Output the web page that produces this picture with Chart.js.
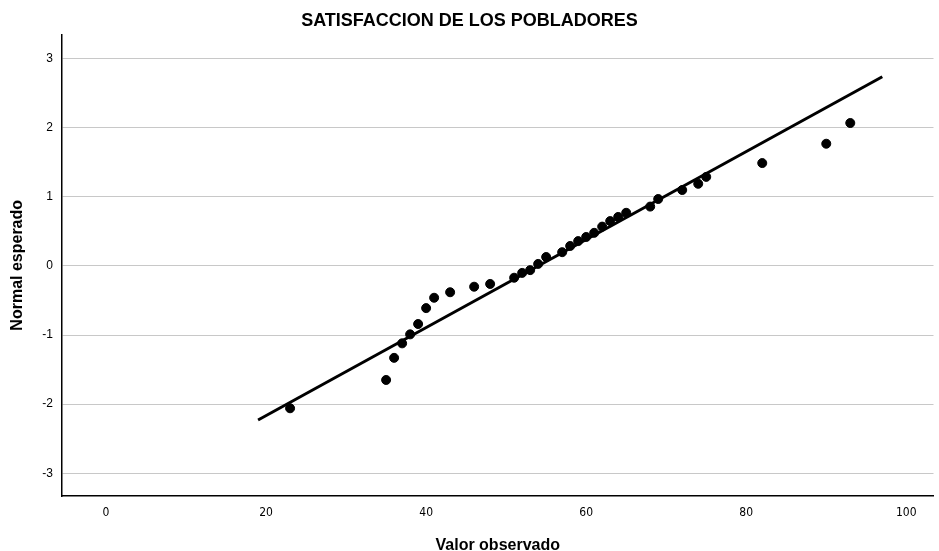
<!DOCTYPE html>
<html>
<head>
<meta charset="utf-8">
<script src="https://cdn.jsdelivr.net/npm/chart.js@4"></script>
<style>
  body { margin: 0; background: #fff; }
  #wrap { width: 939px; height: 551px; }
</style>
</head>
<body>
<div id="wrap"><canvas id="qq"></canvas></div>
<script>
// observed values and expected normal scores
const observed = [23, 35, 36, 37, 38, 39, 40, 41, 43, 46, 48, 51, 52, 53, 54, 55, 57, 58, 59, 60, 61, 62, 63, 64, 65, 68, 69, 72, 74, 75, 82, 90, 93];
const expectedNormal = [-2.06, -1.65, -1.33, -1.12, -0.99, -0.84, -0.61, -0.46, -0.38, -0.30, -0.26, -0.17, -0.10, -0.06, 0.03, 0.13, 0.20, 0.29, 0.36, 0.42, 0.48, 0.57, 0.65, 0.71, 0.77, 0.86, 0.97, 1.10, 1.19, 1.29, 1.49, 1.77, 2.07];

// reference line endpoints
const lineX = [19, 97];
const lineY = [-2.23, 2.74];

const xTicks = [0, 20, 40, 60, 80, 100];
const yTicks = [-3, -2, -1, 0, 1, 2, 3];

const pointData = observed.map((v, i) => ({x: v, y: expectedNormal[i]}));
const lineData = lineX.map((v, i) => ({x: v, y: lineY[i]}));

new Chart(document.getElementById('qq'), {
    type: 'scatter',
    data: {
        datasets: [
            {
                label: 'Observado',
                data: pointData,
                backgroundColor: '#000',
                borderColor: '#000',
                pointRadius: 4.5,
                pointHoverRadius: 4.5
            },
            {
                label: 'Linea',
                type: 'line',
                data: lineData,
                borderColor: '#000',
                borderWidth: 3,
                pointRadius: 0,
                fill: false
            }
        ]
    },
    options: {
        responsive: true,
        maintainAspectRatio: false,
        animation: false,
        layout: { padding: { left: 0, right: 0, top: 0, bottom: 0 } },
        plugins: {
            legend: { display: false },
            tooltip: { enabled: false },
            title: {
                display: true,
                text: 'SATISFACCION DE LOS POBLADORES',
                color: '#000',
                font: { family: 'Arial, "Liberation Sans"', size: 18, weight: 'bold', lineHeight: 1.2 },
                padding: { top: 10, bottom: 3 }
            }
        },
        scales: {
            x: {
                type: 'linear',
                min: -5.5,
                max: 103.4,
                afterBuildTicks: function(axis){
                    axis.ticks = xTicks.map(v => ({value: v}));
                },
                afterFit: function(axis){
                    axis.height = 55;
                },
                grid: { display: false, drawTicks: false },
                border: { display: true, color: '#000', width: 1.5 },
                ticks: {
                    color: '#000',
                    padding: 10,
                    maxRotation: 0,
                    font: { family: '"Liberation Sans Narrow", "DejaVu Sans Condensed", Arial', size: 12 }
                },
                title: {
                    display: true,
                    text: 'Valor observado',
                    color: '#000',
                    font: { family: 'Arial, "Liberation Sans"', size: 16, weight: 'bold', lineHeight: 0.7 },
                    padding: { top: 13, bottom: 0 }
                }
            },
            y: {
                type: 'linear',
                min: -3.33,
                max: 3.35,
                afterBuildTicks: function(axis){
                    axis.ticks = yTicks.map(v => ({value: v}));
                },
                afterFit: function(axis){
                    axis.width = 62;
                },
                grid: { color: '#c8c8c8', lineWidth: 1, drawTicks: false },
                border: { display: true, color: '#000', width: 1.5 },
                ticks: {
                    color: '#000',
                    padding: 9,
                    font: { family: 'Arial, "Liberation Sans"', size: 12 }
                },
                title: {
                    display: true,
                    text: 'Normal esperado',
                    color: '#000',
                    font: { family: 'Arial, "Liberation Sans"', size: 16, weight: 'bold' },
                    padding: { top: 8, bottom: 0 }
                }
            }
        }
    }
});
</script>
</body>
</html>
